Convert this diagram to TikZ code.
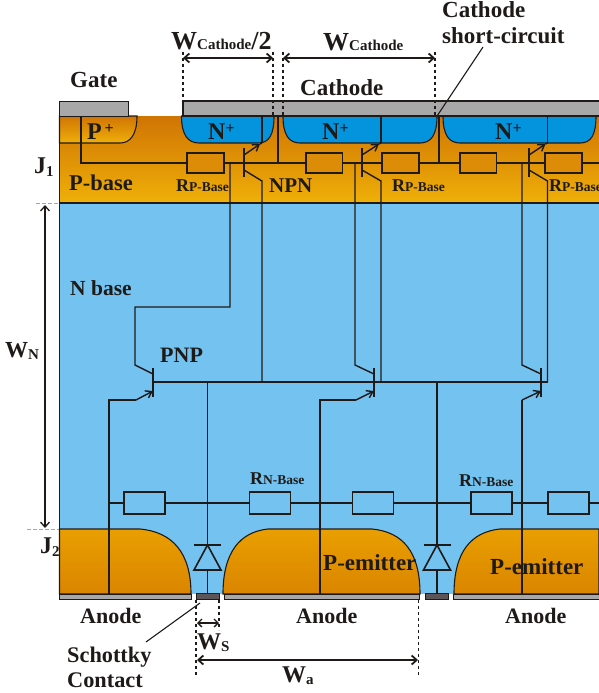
\documentclass[tikz,border=0pt]{standalone}
\usepackage{fontspec}
\setmainfont{Liberation Serif}
\usetikzlibrary{arrows.meta}
\definecolor{ink}{HTML}{1E1A18}
\definecolor{nbase}{HTML}{74C2F0}
\definecolor{nplus}{HTML}{0494DE}
\definecolor{metal}{HTML}{A8A8A8}
\definecolor{schott}{HTML}{5C5456}
\definecolor{ptop}{HTML}{D07404}
\definecolor{pbot}{HTML}{EFB008}
\definecolor{etop}{HTML}{E99F00}
\definecolor{ebot}{HTML}{DA8500}
\tikzset{
 wire/.style={draw=ink,line width=1.4pt},
 outline/.style={draw=ink,line width=1.1pt},
 lab/.style={font=\bfseries\fontsize{#1}{#1}\selectfont,text=ink,inner sep=0pt,anchor=base west},
 lab/.default=20,
 res/.style={draw=ink,line width=1.6pt,fill=none,minimum width=#1,inner sep=0pt,rectangle},
 dim/.style={draw=ink,line width=1.8pt,{Straight Barb[length=5pt,width=9pt]}-{Straight Barb[length=5pt,width=9pt]}},
 dimb/.style={draw=ink,line width=1.4pt,dash pattern=on 3pt off 3pt},
 tick/.style={draw=black!35,line width=1pt,dash pattern=on 4pt off 2pt},
 emit/.style={draw=ink,line width=1.4pt,-{Straight Barb[length=6pt,width=8pt]}},
 metalbar/.style={fill=metal,draw=ink,line width=1pt},
}
\newcommand{\rp}[2]{\node[res=35pt,minimum height=18pt] (#1) at (#2) {};}
\newcommand{\rn}[2]{\node[res=39.5pt,minimum height=20pt] (#1) at (#2) {};}
\newcommand{\sub}[1]{{\fontsize{15}{15}\selectfont #1}}
\newcommand{\subr}[1]{{\fontsize{13.5}{13.5}\selectfont #1}}
\begin{document}
\begin{tikzpicture}[x=1pt,y=-1pt]
\useasboundingbox (0,0) rectangle (599,693);
% regions
\fill[nbase] (59.5,203) rectangle (599,594);
\shade[top color=ptop,bottom color=pbot] (59.5,116) rectangle (599,203);
\shade[top color=etop,bottom color=ebot,outline] (59.5,529) -- (140,529) .. controls (172,532) and (191,552) .. (191,594) -- (59.5,594) -- cycle;
\shade[top color=etop,bottom color=ebot,outline] (223,594) .. controls (223,552) and (240,532) .. (268,529) -- (372,529) .. controls (403,532) and (420,552) .. (420,594) -- cycle;
\shade[top color=etop,bottom color=ebot,outline] (454,594) .. controls (454,552) and (471,532) .. (500,529) -- (599,529) -- (599,594) -- cycle;
\draw[outline] (59.5,529) -- (59.5,116);
\draw[outline] (59.5,203) -- (599,203);
% P+
\shade[top color=ptop,bottom color=pbot,outline] (59.5,143) -- (120,143) .. controls (130,143) and (137,135) .. (137,116) -- (59.5,116) -- cycle;
% N+
\fill[nplus,draw=ink,line width=1.1pt] (181.5,116) .. controls (181.5,135) and (188,143) .. (199,143) -- (258,143) .. controls (269,143) and (274,135) .. (274,116) -- cycle;
\fill[nplus,draw=ink,line width=1.1pt] (283,116) .. controls (283,135) and (289,143) .. (300,143) -- (420,143) .. controls (431,143) and (437,135) .. (437,116) -- cycle;
\fill[nplus,draw=ink,line width=1.1pt] (443,116) .. controls (443,135) and (449,143) .. (460,143) -- (580,143) .. controls (591,143) and (596,135) .. (596,116) -- cycle;
% metal
\path[metalbar] (59.5,101) rectangle (128,116);
\fill[metal] (183.4,101.4) rectangle (599,115.6);
\draw[ink,line width=1.1pt] (599,101) -- (183,101) -- (183,116) -- (599,116);
\path[metalbar] (59.5,594) rectangle (191,599);
\path[metalbar] (224,594) rectangle (419.5,599);
\fill[metal] (453,594) rectangle (599,599);
\draw[ink,line width=1pt] (599,594) -- (453,594) -- (453,599) -- (599,599);
\fill[schott,draw=ink,line width=0.6pt] (196,593.5) rectangle (219,599.5);
\fill[schott,draw=ink,line width=0.6pt] (425,593.5) rectangle (448,599.5);
% P-base wiring
\coordinate (gw) at (81,116);
\coordinate (gc) at (81,163);
\draw[wire] (gw) -- (gc) -- (599,163);
\draw[wire] (278,116) -- (278,163);
\draw[wire] (439,116) -- (439,163);
\rp{R1}{205.5,163} \rp{R2}{324,163} \rp{R3}{400.5,163} \rp{R4}{478,163} \rp{R5}{563.5,163}
\foreach \r in {R1,R2,R3,R4,R5}{\fill[ptop!60!pbot] (\r.south west) rectangle (\r.north east); \draw[ink,line width=1.6pt] (\r.south west) rectangle (\r.north east);}
% NPN transistors: bx = bar, ex = emitter/collector line, wx = base wire
\foreach \bx/\ex/\wx in {244/262/230,362/381/355,529/547.5/522}{
 \draw[ink,line width=1.6pt] (\bx,148) -- (\bx,177);
 \draw[wire] (\ex,116) -- (\ex,143);
 \draw[emit] (\bx,155) -- (\ex-2,144);
 \draw[wire] (\ex-2,144) -- (\ex,143);
 \draw[wire] (\bx,170) -- (\ex,181) -- (\ex,382);
 \draw[wire] (\wx,163) -- (\bx,163);
}
\draw[wire] (230,163) -- (230,307) -- (135,307) -- (135,365) -- (153,374);
\draw[wire] (355,163) -- (355,365) -- (374,374);
\draw[wire] (522,163) -- (522,365) -- (541,374);
% PNP transistors
\draw[wire] (153,382) -- (547.5,382);
\foreach \bx in {153,374,541}{\draw[ink,line width=1.4pt] (\bx,368) -- (\bx,397);}
\draw[wire] (109,594) -- (109,400) -- (136,400);
\draw[emit] (136,400) -- (153,391);
\draw[wire] (320,594) -- (320,400) -- (356,400);
\draw[emit] (356,400) -- (374,391);
\draw[wire] (522,594) -- (522,400);
\draw[emit] (522,400) -- (541,391);
% N-base line and resistors
\draw[wire] (109,503) -- (599,503);
\rn{N1}{144.5,503} \rn{N2}{270,503} \rn{N3}{373,503} \rn{N4}{491.5,503} \rn{N5}{568.5,503}
\foreach \r in {N1,N2,N3,N4,N5}{\fill[nbase] (\r.south west) rectangle (\r.north east); \draw[ink,line width=1.6pt] (\r.south west) rectangle (\r.north east);}
% diodes
\foreach \x in {207.5,437}{
 \draw[wire] (\x,382) -- (\x,594);
 \fill[nbase] (\x,545) -- (\x-13.5,570) -- (\x+13.5,570) -- cycle;
 \draw[ink,line width=1.6pt] (\x,545) -- (\x-13.5,570) -- (\x+13.5,570) -- cycle;
 \draw[ink,line width=1.6pt] (\x-13.5,545) -- (\x+13.5,545);
}
% dimension lines
\foreach \x/\yy in {183/100,273/116,283/116,435/116}{\draw[dimb] (\x,52) -- (\x,\yy);}
\draw[dim] (183,58) -- (273,58);
\draw[dim] (283,58) -- (435,58);
\draw[tick] (36,203) -- (58,203);
\draw[tick] (27,529) -- (59,529);
\draw[draw=ink,line width=1.3pt,{Straight Barb[length=5pt,width=9pt]}-{Straight Barb[length=5pt,width=9pt]}] (45,205) -- (45,528);
\draw[dimb,line width=1.2pt] (196,600) -- (196,675);
\draw[dimb,line width=1.2pt] (219,600) -- (219,630);
\draw[dimb,line width=1pt] (418.5,600) -- (418.5,675);
\draw[draw=ink,line width=1.3pt,{Straight Barb[length=4pt,width=8pt]}-{Straight Barb[length=4pt,width=8pt]}] (197,623) -- (219,623);
\draw[dim] (197,660) -- (418,660);
% leaders
\coordinate (sc) at (483,47); \coordinate (sce) at (437,116);
\draw[ink,line width=1.1pt] (sc) -- (sce);
\coordinate (sk) at (200,603); \coordinate (ske) at (146,642);
\draw[ink,line width=1.1pt] (sk) -- (ske);
% labels
\node[lab=23] (t1) at (70,88) {Gate};
\node[lab=23] (t2) at (300,95) {Cathode};
\node[lab=23] (t3) at (442,18) {Cathode};
\node[lab=23] (t4) at (442,44) {short-circuit};
\node[lab=26] (t5) at (171,50) {W\sub{Cathode}/2};
\node[lab=26] (t6) at (323,51) {W\sub{Cathode}};
\node[lab=24] (t7) at (87,139) {P\raisebox{6pt}{\fontsize{16}{16}\selectfont\,+}};
\foreach \n/\x in {a/208,b/322,c/495}{\node[lab=24] (np\n) at (\x,139) {N\raisebox{6pt}{\fontsize{16}{16}\selectfont +}};}
\node[lab=24] (t8) at (34,173) {J\raisebox{-3pt}{\sub{1}}};
\node[lab=22.5] (t9) at (69,190) {P-base};
\node[lab=18] (r1) at (176,191) {R\subr{P-Base}};
\node[lab=21] (t10) at (269,192) {NPN};
\node[lab=18] (r2) at (392,191) {R\subr{P-Base}};
\node[lab=18] (r3) at (549,191) {R\subr{P-Base}};
\node[lab=21.5] (t11) at (70,295) {N base};
\node[lab=23] (t12) at (5,357) {W\raisebox{-2pt}{\sub{N}}};
\node[lab=22] (t13) at (160,362) {PNP};
\node[lab=18] (r4) at (250,484) {R\subr{N-Base}};
\node[lab=18] (r5) at (459,486) {R\subr{N-Base}};
\node[lab=24] (t14) at (40,553) {J\raisebox{-3pt}{\sub{2}}};
\node[lab=23] (t15) at (323,570) {P-emitter};
\node[lab=23] (t16) at (490,574) {P-emitter};
\node[lab=22] (t17) at (80,623) {Anode};
\node[lab=22] (t18) at (296,623) {Anode};
\node[lab=22] (t19) at (505,623) {Anode};
\node[lab=22.3] (t20) at (67,662) {Schottky};
\node[lab=22.3] (t21) at (67,687) {Contact};
\node[lab=24] (t22) at (197,649) {W\raisebox{-2pt}{\sub{S}}};
\node[lab=24] (t23) at (282,682) {W\raisebox{-2pt}{\sub{a}}};
\end{tikzpicture}
\end{document}
